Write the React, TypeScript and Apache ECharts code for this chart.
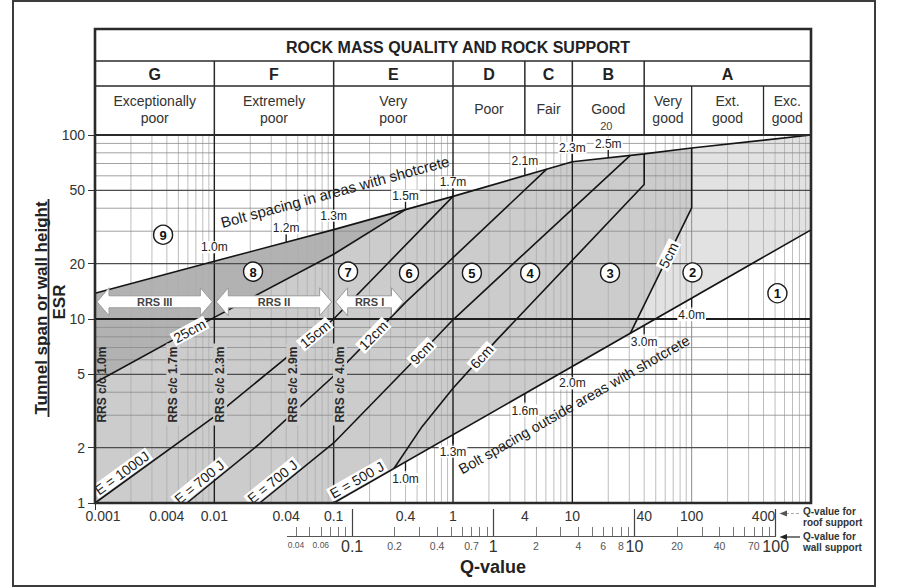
import React, { useEffect, useRef } from 'react';
import * as echarts from 'echarts';

const FONT = '"Liberation Sans", Arial, Helvetica, sans-serif';
const L = (v: number) => Math.log10(v);
type P = [number, number];

// ---------------- axis ticks ----------------
const roofTickValues = [0.001, 0.004, 0.01, 0.04, 0.1, 0.4, 1, 4, 10, 40, 100, 400];
const roofTickLabels = ['0.001', '0.004', '0.01', '0.04', '0.1', '0.4', '1', '4', '10', '40', '100', '400'];
const wallTickValues = [0.04, 0.06, 0.1, 0.2, 0.4, 0.7, 1, 2, 4, 6, 8, 10, 20, 40, 70, 100];
const wallTickLabels = ['0.04', '0.06', '0.1', '0.2', '0.4', '0.7', '1', '2', '4', '6', '8', '10', '20', '40', '70', '100'];
const wallMajorValues = [0.1, 1, 10, 100];
const wallAxisMin = 0.0348;
const esrTickValues = [1, 2, 5, 10, 20, 50, 100];

// ---------------- lines (Q, ESR) ----------------
const boltShotcreteLine: P[] = [[0.001, 13.8], [0.01, 20.6], [0.1, 30.6], [1, 46.4], [10, 71.6], [40, 79], [100, 85], [1000, 100]];
const boltNoShotcreteLine: P[] = [[0.1, 1], [1000, 30.5]];
const line25cm: P[] = [[0.001, 4.5], [0.01, 10.2], [0.1, 22.5], [0.4, 39.3]];
const line15cm: P[] = [[0.001, 1], [0.01, 2.95], [0.1, 10], [1, 46.4]];
const line12cm: P[] = [[0.0059, 1], [0.024, 2.1], [0.1, 4.9], [0.41, 12.5], [0.78, 18.5], [6.1, 65.2]];
const line9cm: P[] = [[0.024, 1], [0.1, 2.12], [0.55, 6.6], [1, 9.9], [3.65, 21.6], [30.6, 77.5]];
const line6cm: P[] = [[0.32, 1.54], [0.55, 2.6], [1, 4.2], [2.33, 7.7], [40, 53.8], [40, 79]];
const line5cm: P[] = [[30.6, 8.36], [100, 40.2], [100, 85]];

// ---------------- header ----------------
const classCols = [
  { t: 'G', from: 0.001, to: 0.01 }, { t: 'F', from: 0.01, to: 0.1 }, { t: 'E', from: 0.1, to: 1 },
  { t: 'D', from: 1, to: 4 }, { t: 'C', from: 4, to: 10 }, { t: 'B', from: 10, to: 40 }, { t: 'A', from: 40, to: 1000 },
];
const qualityCols = [
  { t: 'Exceptionally\npoor', from: 0.001, to: 0.01 }, { t: 'Extremely\npoor', from: 0.01, to: 0.1 },
  { t: 'Very\npoor', from: 0.1, to: 1 }, { t: 'Poor', from: 1, to: 4 }, { t: 'Fair', from: 4, to: 10 },
  { t: 'Good', from: 10, to: 40 }, { t: 'Very\ngood', from: 40, to: 100 }, { t: 'Ext.\ngood', from: 100, to: 400 },
  { t: 'Exc.\ngood', from: 400, to: 1000 },
];
const goodSubLabel = { t: '20', q: 20 };

// ---------------- annotations ----------------
const supportClasses = [
  { n: '1', q: 523, esr: 13.8 }, { n: '2', q: 101.6, esr: 17.9 }, { n: '3', q: 20.7, esr: 17.8 },
  { n: '4', q: 4.43, esr: 17.8 }, { n: '5', q: 1.44, esr: 17.8 }, { n: '6', q: 0.428, esr: 17.8 },
  { n: '7', q: 0.132, esr: 18.1 }, { n: '8', q: 0.0211, esr: 18.1 }, { n: '9', q: 0.00372, esr: 28.7 },
];
const upperBoltTicks = [
  { q: 0.01, t: '1.0m' }, { q: 0.04, t: '1.2m' }, { q: 0.1, t: '1.3m' }, { q: 0.4, t: '1.5m' },
  { q: 1, t: '1.7m' }, { q: 4, t: '2.1m' }, { q: 10, t: '2.3m' }, { q: 20, t: '2.5m' },
];
const lowerBoltTicks = [
  { q: 0.4, t: '1.0m' }, { q: 1, t: '1.3m' }, { q: 4, t: '1.6m' }, { q: 10, t: '2.0m' }, { q: 40, t: '3.0m' }, { q: 100, t: '4.0m' },
];
const thicknessLabels = [
  { t: '25cm', line: line25cm, q: 0.0062 }, { t: '15cm', line: line15cm, q: 0.0698 },
  { t: '12cm', line: line12cm, q: 0.215 }, { t: '9cm', line: line9cm, q: 0.547 },
  { t: '6cm', line: line6cm, q: 1.74 }, { t: '5cm', line: line5cm, q: 64 },
];
const energyLabels = [
  { t: 'E = 1000J', line: line15cm, q: 0.00185 }, { t: 'E = 700 J', line: line12cm, q: 0.0083 },
  { t: 'E = 700 J', line: line9cm, q: 0.034 }, { t: 'E = 500 J', line: boltNoShotcreteLine, q: 0.17 },
];
const rrsSpacingLabels = [
  { t: 'RRS c/c 1.0m', q: 0.00114 }, { t: 'RRS c/c 1.7m', q: 0.00453 }, { t: 'RRS c/c 2.3m', q: 0.01117 },
  { t: 'RRS c/c 2.9m', q: 0.0459 }, { t: 'RRS c/c 4.0m', q: 0.113 },
];
const rrsSpacingEsr = 4.4;
const rrsArrows = [
  { t: 'RRS III', from: 0.001, to: 0.01 }, { t: 'RRS II', from: 0.01, to: 0.1 }, { t: 'RRS I', from: 0.1, to: 0.4 },
];
const rrsArrowEsr = 12.4;
const boltTexts = [
  { t: 'Bolt spacing in areas with shotcrete', line: boltShotcreteLine, q: 0.1026, esr: 49.2, size: 15 },
  { t: 'Bolt spacing outside areas with shotcrete', line: boltNoShotcreteLine, q: 10.35, esr: 3.42, size: 14.5 },
];

// ---------------- helpers ----------------
function esrAt(line: P[], q: number): number {
  const u = L(q);
  const segs: number[] = [];
  for (let i = 0; i < line.length - 1; i++) if (line[i + 1][0] > line[i][0]) segs.push(i);
  let k = segs.find((i) => u <= L(line[i + 1][0]));
  if (k === undefined) k = segs[segs.length - 1];
  const ua = L(line[k][0]), ub = L(line[k + 1][0]);
  const va = L(line[k][1]), vb = L(line[k + 1][1]);
  return 10 ** (va + ((u - ua) / (ub - ua)) * (vb - va));
}
function angleAt(api: any, line: P[], q: number): number {
  const a = api.coord([L(q / 1.2), L(esrAt(line, q / 1.2))]);
  const b = api.coord([L(q * 1.2), L(esrAt(line, q * 1.2))]);
  return Math.atan2(a[1] - b[1], b[0] - a[0]);
}

// regions
const baseRegion: P[] = [...boltShotcreteLine, ...boltNoShotcreteLine.slice().reverse(), [0.001, 1]];
const region8: P[] = [...line25cm, ...boltShotcreteLine.filter((p) => p[0] < line25cm[line25cm.length - 1][0]).reverse()];
const region2: P[] = [...line5cm, ...boltShotcreteLine.filter((p) => p[0] > 100), boltNoShotcreteLine[1]];
const fillRegions = [
  { pts: baseRegion, fill: '#cccccc' },
  { pts: region8, fill: '#b2b2b2' },
  { pts: region2, fill: '#e2e2e2' },
];

// grid lines (log decades)
type GL = { dir: 'x' | 'y'; v: number; c: string; w: number };
function buildGridLines(): GL[] {
  const minor: GL[] = [];
  const major: GL[] = [];
  for (let d = -3; d <= 2; d++) {
    for (let k = 1; k <= 9; k++) {
      if (d === -3 && k === 1) continue;
      const q = k * 10 ** d;
      if (k === 1 && d >= -2 && d <= 1) major.push({ dir: 'x', v: L(q), c: '#1e1e1e', w: 1.4 });
      else if (k === 1) minor.push({ dir: 'x', v: L(q), c: '#8c8c8c', w: 1 });
      else minor.push({ dir: 'x', v: L(q), c: '#adadad', w: 0.8 });
    }
  }
  for (let d = 0; d <= 1; d++) {
    for (let k = 1; k <= 9; k++) {
      if (d === 0 && k === 1) continue;
      const e = k * 10 ** d;
      if (e === 10) major.push({ dir: 'y', v: L(e), c: '#1e1e1e', w: 2 });
      else if (k === 2 || k === 5) major.push({ dir: 'y', v: L(e), c: '#4d4d4d', w: 1.1 });
      else minor.push({ dir: 'y', v: L(e), c: '#8a8a8a', w: 0.8 });
    }
  }
  return [...minor, ...major];
}
const gridLines = buildGridLines();

function wallMinorTicks(): number[] {
  const out: number[] = [];
  for (let d = -2; d <= 1; d++) for (let k = 1; k <= 9; k++) {
    const q = k * 10 ** d;
    if (q >= 0.04 && q <= 100) out.push(L(q));
  }
  out.push(2);
  return out;
}

function idxOf(arr: number[], v: number) {
  return arr.findIndex((t) => Math.abs(L(t) - v) < 1e-6);
}

function buildOption(): any {
  const lineSeries = [boltShotcreteLine, boltNoShotcreteLine, line25cm, line15cm, line12cm, line9cm, line6cm, line5cm].map((line) => ({
    type: 'line', z: 3, silent: true, symbol: 'none', clip: false,
    data: line.map((p) => [L(p[0]), L(p[1])]),
    lineStyle: { color: '#151515', width: 1.6 },
  }));
  return {
    animation: false,
    backgroundColor: '#ffffff',
    grid: [
      { left: 95, top: 135, width: 716, height: 368 },
      { left: 287.4, top: 520, width: 488.3, height: 16 },
    ],
    xAxis: [
      {
        type: 'value', gridIndex: 0, min: -3, max: 3, position: 'bottom',
        axisLine: { show: false, onZero: false },
        axisTick: { show: true, customValues: [-3], length: 7, lineStyle: { color: '#333' } },
        axisLabel: {
          customValues: roofTickValues.map(L), margin: 6, color: '#333', fontSize: 14, fontFamily: FONT,
          formatter: (v: number) => {
            const i = idxOf(roofTickValues, v);
            if (i < 0) return '';
            return i === 0 ? `{first|${roofTickLabels[i]}}` : roofTickLabels[i];
          },
          rich: { first: { fontSize: 14, color: '#333', fontFamily: FONT, padding: [0, 0, 0, 16] } },
        },
        splitLine: { show: false },
      },
      {
        type: 'value', gridIndex: 1, min: L(wallAxisMin), max: 2, position: 'bottom',
        axisLine: { show: true, onZero: false, lineStyle: { color: '#555', width: 1 } },
        axisTick: { show: true, inside: true, customValues: wallMinorTicks(), length: 9, lineStyle: { color: '#777' } },
        axisLabel: {
          customValues: wallTickValues.map(L), margin: 2,
          formatter: (v: number) => {
            const i = idxOf(wallTickValues, v);
            if (i < 0) return '';
            const q = wallTickValues[i];
            const t = wallTickLabels[i];
            if (wallMajorValues.indexOf(q) >= 0) return `{big|${t}}`;
            if (q < 0.1) return `{tiny|${t}}`;
            return `{small|${t}}`;
          },
          rich: {
            big: { fontSize: 16, color: '#333', fontFamily: FONT },
            small: { fontSize: 10.5, color: '#555', fontFamily: FONT, padding: [2, 0, 0, 0] },
            tiny: { fontSize: 8.5, color: '#555', fontFamily: FONT, padding: [2, 0, 0, 0] },
          },
        },
        splitLine: { show: false },
      },
      {
        type: 'value', gridIndex: 1, min: L(wallAxisMin), max: 2, position: 'bottom',
        axisLine: { show: false, onZero: false },
        axisTick: { show: true, inside: true, customValues: wallMajorValues.map(L), length: 27, lineStyle: { color: '#444', width: 1.2 } },
        axisLabel: { show: false },
        splitLine: { show: false },
      },
    ],
    yAxis: [
      {
        type: 'value', gridIndex: 0, min: 0, max: 2,
        axisLine: { show: false, onZero: false },
        axisTick: { show: true, customValues: esrTickValues.map(L), length: 7, lineStyle: { color: '#333' } },
        axisLabel: {
          customValues: esrTickValues.map(L), margin: 10, color: '#333', fontSize: 14, fontFamily: FONT,
          formatter: (v: number) => String(Math.round(10 ** v)),
        },
        splitLine: { show: false },
      },
      { type: 'value', gridIndex: 1, min: 0, max: 1, show: false },
    ],
    series: [
      {
        type: 'custom', z: 1, silent: true, xAxisIndex: 0, yAxisIndex: 0,
        data: fillRegions.map(() => [0, 1]),
        renderItem: (params: any, api: any) => {
          const r = fillRegions[params.dataIndex];
          return { type: 'polygon', shape: { points: r.pts.map((p) => api.coord([L(p[0]), L(p[1])])) }, style: { fill: r.fill } };
        },
      },
      {
        type: 'custom', z: 2, silent: true, xAxisIndex: 0, yAxisIndex: 0,
        data: gridLines.map(() => [0, 1]),
        renderItem: (params: any, api: any) => {
          const g = gridLines[params.dataIndex];
          const a = g.dir === 'x' ? api.coord([g.v, 0]) : api.coord([-3, g.v]);
          const b = g.dir === 'x' ? api.coord([g.v, 2]) : api.coord([3, g.v]);
          return { type: 'line', shape: { x1: a[0], y1: a[1], x2: b[0], y2: b[1] }, style: { stroke: g.c, lineWidth: g.w } };
        },
      },
      ...lineSeries,
      // bolt spacing ticks
      {
        type: 'custom', z: 4, silent: true, xAxisIndex: 0, yAxisIndex: 0,
        data: [...upperBoltTicks, ...lowerBoltTicks].map(() => [0, 1]),
        renderItem: (params: any, api: any) => {
          const i = params.dataIndex;
          const up = i < upperBoltTicks.length;
          const tk = up ? upperBoltTicks[i] : lowerBoltTicks[i - upperBoltTicks.length];
          const line = up ? boltShotcreteLine : boltNoShotcreteLine;
          const p = api.coord([L(tk.q), L(esrAt(line, tk.q))]);
          const dy = up ? -8 : 9;
          return {
            type: 'group', children: [
              { type: 'line', shape: { x1: p[0], y1: p[1], x2: p[0], y2: p[1] + dy }, style: { stroke: '#1a1a1a', lineWidth: 1.3 } },
              {
                type: 'text', x: p[0], y: p[1] + (up ? -14 : 17),
                style: { text: tk.t, font: `12px ${FONT}`, fill: '#222', align: 'center', verticalAlign: 'middle', backgroundColor: '#ffffff', padding: [0, 1] },
              },
            ],
          };
        },
      },
      // RRS arrows
      {
        type: 'custom', z: 4, silent: true, xAxisIndex: 0, yAxisIndex: 0,
        data: rrsArrows.map(() => [0, 1]),
        renderItem: (params: any, api: any) => {
          const a = rrsArrows[params.dataIndex];
          const p0 = api.coord([L(a.from), L(rrsArrowEsr)]);
          const p1 = api.coord([L(a.to), L(rrsArrowEsr)]);
          const x0 = p0[0] + 2, x1 = p1[0] - 2, cy = p0[1];
          const hl = 12, hh = 14, bh = 6;
          const pts = [
            [x0, cy], [x0 + hl, cy - hh], [x0 + hl, cy - bh], [x1 - hl, cy - bh], [x1 - hl, cy - hh], [x1, cy],
            [x1 - hl, cy + hh], [x1 - hl, cy + bh], [x0 + hl, cy + bh], [x0 + hl, cy + hh],
          ];
          return {
            type: 'group', children: [
              { type: 'polygon', shape: { points: pts }, style: { fill: '#ffffff', stroke: '#9a9a9a', lineWidth: 1 } },
              { type: 'text', x: (x0 + x1) / 2, y: cy, style: { text: a.t, font: `bold 11px ${FONT}`, fill: '#444', align: 'center', verticalAlign: 'middle' } },
            ],
          };
        },
      },
      // RRS spacing labels
      {
        type: 'custom', z: 5, silent: true, xAxisIndex: 0, yAxisIndex: 0,
        data: rrsSpacingLabels.map(() => [0, 1]),
        renderItem: (params: any, api: any) => {
          const r = rrsSpacingLabels[params.dataIndex];
          const p = api.coord([L(r.q), L(rrsSpacingEsr)]);
          return {
            type: 'text', x: p[0], y: p[1], rotation: Math.PI / 2,
            style: {
              text: r.t, font: `bold 12px ${FONT}`, fill: '#2a2a2a', align: 'center', verticalAlign: 'middle',
              backgroundColor: params.dataIndex === 0 ? 'transparent' : '#cccccc', padding: [1, 3],
            },
          };
        },
      },
      // thickness labels
      {
        type: 'custom', z: 5, silent: true, xAxisIndex: 0, yAxisIndex: 0,
        data: thicknessLabels.map(() => [0, 1]),
        renderItem: (params: any, api: any) => {
          const t = thicknessLabels[params.dataIndex];
          const p = api.coord([L(t.q), L(esrAt(t.line, t.q))]);
          return {
            type: 'text', x: p[0], y: p[1], rotation: angleAt(api, t.line, t.q),
            style: { text: t.t, font: `14px ${FONT}`, fill: '#1a1a1a', align: 'center', verticalAlign: 'middle', backgroundColor: '#ffffff', padding: [0, 2] },
          };
        },
      },
      // energy labels
      {
        type: 'custom', z: 5, silent: true, xAxisIndex: 0, yAxisIndex: 0,
        data: energyLabels.map(() => [0, 1]),
        renderItem: (params: any, api: any) => {
          const t = energyLabels[params.dataIndex];
          const p = api.coord([L(t.q), L(esrAt(t.line, t.q))]);
          const th = angleAt(api, t.line, t.q);
          const off = 8.5;
          return {
            type: 'text', x: p[0] - off * Math.sin(th), y: p[1] - off * Math.cos(th), rotation: th,
            style: { text: t.t, font: `14px ${FONT}`, fill: '#1a1a1a', align: 'center', verticalAlign: 'middle', backgroundColor: '#ffffff', padding: [0, 2] },
          };
        },
      },
      // bolt spacing texts
      {
        type: 'custom', z: 5, silent: true, xAxisIndex: 0, yAxisIndex: 0,
        data: boltTexts.map(() => [0, 1]),
        renderItem: (params: any, api: any) => {
          const t = boltTexts[params.dataIndex];
          const p = api.coord([L(t.q), L(t.esr)]);
          return {
            type: 'text', x: p[0], y: p[1], rotation: angleAt(api, t.line, t.q),
            style: { text: t.t, font: `${t.size}px ${FONT}`, fill: '#1a1a1a', align: 'center', verticalAlign: 'middle' },
          };
        },
      },
      // support class circles
      {
        type: 'custom', z: 6, silent: true, xAxisIndex: 0, yAxisIndex: 0,
        data: supportClasses.map(() => [0, 1]),
        renderItem: (params: any, api: any) => {
          const c = supportClasses[params.dataIndex];
          const p = api.coord([L(c.q), L(c.esr)]);
          return {
            type: 'group', children: [
              { type: 'circle', shape: { cx: p[0], cy: p[1], r: 9.5 }, style: { fill: '#ffffff', stroke: '#1a1a1a', lineWidth: 1.4 } },
              { type: 'text', x: p[0], y: p[1] + 0.5, style: { text: c.n, font: `bold 13px ${FONT}`, fill: '#111', align: 'center', verticalAlign: 'middle' } },
            ],
          };
        },
      },
      // dummy series for grid 1
      { type: 'line', xAxisIndex: 1, yAxisIndex: 1, data: [], silent: true },
    ],
  };
}

function buildGraphic(chart: any): any[] {
  const xPx = (q: number) => chart.convertToPixel({ xAxisIndex: 0 }, L(q)) as number;
  const yPx = (e: number) => chart.convertToPixel({ yAxisIndex: 0 }, L(e)) as number;
  const left = xPx(0.001), right = xPx(1000), top = yPx(100), bottom = yPx(1);
  const hTop = 29, row1 = 61, row2 = 86;
  const ink = '#2a2a2a';
  const els: any[] = [];
  const line = (x1: number, y1: number, x2: number, y2: number, w: number, c = ink) =>
    els.push({ type: 'line', z: 100, silent: true, shape: { x1, y1, x2, y2 }, style: { stroke: c, lineWidth: w } });
  const text = (x: number, y: number, t: string, font: string, extra: any = {}) =>
    els.push({ type: 'text', z: 101, silent: true, x, y, rotation: extra.rotation || 0,
      style: { text: t, font, fill: extra.fill || '#222', align: extra.align || 'center', verticalAlign: 'middle', lineHeight: extra.lineHeight } });

  // outer frame
  els.push({ type: 'rect', z: 100, silent: true, shape: { x: 13, y: 1, width: 862, height: 585 }, style: { fill: 'none', stroke: '#3c3c3c', lineWidth: 2 } });
  // header rows
  line(left, row1, right, row1, 1.5);
  line(left, row2, right, row2, 1.5);
  line(left, top, right, top, 2.2);
  [0.01, 0.1, 1, 4, 10, 40].forEach((q) => line(xPx(q), row1, xPx(q), top, 1.5));
  [100, 400].forEach((q) => line(xPx(q), row2, xPx(q), top, 1.3));
  // main border
  els.push({ type: 'rect', z: 100, silent: true, shape: { x: left, y: hTop, width: right - left, height: bottom - hTop }, style: { fill: 'none', stroke: ink, lineWidth: 2.6 } });

  text((left + right) / 2 + 5, 47, 'ROCK MASS QUALITY AND ROCK SUPPORT', `bold 16px ${FONT}`);
  classCols.forEach((c) => text((xPx(c.from) + xPx(c.to)) / 2, 74, c.t, `bold 16px ${FONT}`));
  qualityCols.forEach((c) => text((xPx(c.from) + xPx(c.to)) / 2, 109, c.t, `14px ${FONT}`, { lineHeight: 17, fill: '#333' }));
  text(xPx(goodSubLabel.q) - 2, 126, goodSubLabel.t, `11px ${FONT}`, { fill: '#444' });

  // y title
  text(41, 308, 'Tunnel span or wall height', `bold 17px ${FONT}`, { rotation: Math.PI / 2 });
  line(48.5, 199, 48.5, 417, 1.8, '#222');
  text(59.5, 302, 'ESR', `bold 17px ${FONT}`, { rotation: Math.PI / 2 });

  // x title
  text(493, 567, 'Q-value', `bold 18px ${FONT}`);

  // roof / wall annotations
  text(803, 517, 'Q-value for\nroof support', `bold 10px ${FONT}`, { align: 'left', lineHeight: 10.5, fill: '#333' });
  text(803, 542, 'Q-value for\nwall support', `bold 10px ${FONT}`, { align: 'left', lineHeight: 10.5, fill: '#333' });
  els.push({ type: 'line', z: 100, silent: true, shape: { x1: 786, y1: 513.5, x2: 799, y2: 513.5 }, style: { stroke: '#aaa', lineWidth: 1.2, lineDash: [3, 2] } });
  els.push({ type: 'polygon', z: 100, silent: true, shape: { points: [[779.5, 513.5], [787, 510.5], [787, 516.5]] }, style: { fill: '#555' } });
  els.push({ type: 'line', z: 100, silent: true, shape: { x1: 786, y1: 537, x2: 800, y2: 537 }, style: { stroke: '#333', lineWidth: 1.3 } });
  els.push({ type: 'polygon', z: 100, silent: true, shape: { points: [[779.5, 537], [787, 534], [787, 540]] }, style: { fill: '#222' } });
  return els;
}

export default function App() {
  const ref = useRef<HTMLDivElement>(null);
  useEffect(() => {
    if (!ref.current) return;
    const chart = echarts.init(ref.current, null, { renderer: 'svg' });
    chart.setOption(buildOption());
    chart.setOption({ graphic: buildGraphic(chart) });
    return () => chart.dispose();
  }, []);
  return <div ref={ref} style={{ position: 'absolute', left: 0, top: 0, width: 897, height: 588, background: '#fff' }} />;
}
